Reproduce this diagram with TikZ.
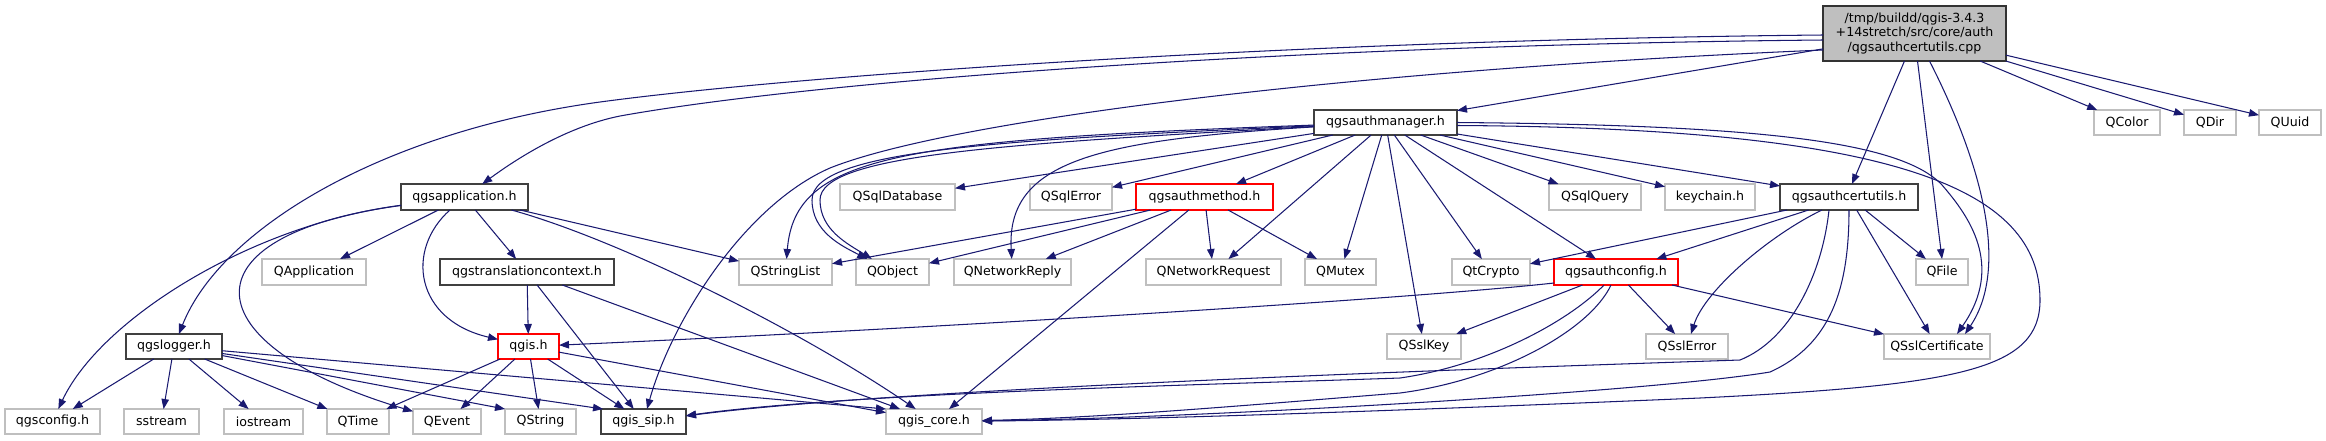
\documentclass[tikz,border=0pt]{standalone}
\usepackage{fontspec}
\setmainfont{DejaVu Sans}
\usetikzlibrary{arrows.meta}
\definecolor{edgecol}{HTML}{191970}
\definecolor{grayb}{HTML}{BFBFBF}
\newcommand{\bx}[7]{\node[#1, minimum width=#5pt, minimum height=#6pt] (#2) at (#3,#4) {#7};}
\begin{document}
\begin{tikzpicture}[x=1pt,y=-1pt,
  box/.style={draw, line width=1.2pt, fill=white, inner sep=0pt, outer sep=0pt,
    font=\fontsize{12.6}{14.5}\selectfont, align=center},
  gbox/.style={box, draw=grayb},
  bbox/.style={box, draw=black!75},
  rbox/.style={box, draw=red},
  mainbox/.style={box, draw=black!80, fill=grayb},
  dep/.style={draw=edgecol, line width=1.05pt, -{Triangle[length=10pt,width=7.5pt]}}]
\useasboundingbox (0,0) rectangle (2326,440);

% row 0
\bx{mainbox}{main}{1914.5}{33.5}{183}{55}{/tmp/buildd/qgis-3.4.3\\+14stretch/src/core/auth\\/qgsauthcertutils.cpp}
% row 1
\bx{bbox}{authmgr}{1385.5}{122.5}{143}{25}{qgsauthmanager.h}
\bx{gbox}{qcolor}{2127}{122.5}{66}{25}{QColor}
\bx{gbox}{qdir}{2210}{122.5}{52}{25}{QDir}
\bx{gbox}{quuid}{2290}{122.5}{62}{25}{QUuid}
% row 2
\bx{bbox}{qgsapp}{464.5}{197}{127}{26}{qgsapplication.h}
\bx{gbox}{sqldb}{897.5}{197}{115}{26}{QSqlDatabase}
\bx{gbox}{sqlerr}{1071}{197}{82}{26}{QSqlError}
\bx{rbox}{authmethod}{1204.5}{197}{137}{26}{qgsauthmethod.h}
\bx{gbox}{sqlquery}{1595}{197}{92}{26}{QSqlQuery}
\bx{gbox}{keychain}{1710}{197}{90}{26}{keychain.h}
\bx{bbox}{certutils}{1849}{197}{138}{26}{qgsauthcertutils.h}
% row 3
\bx{gbox}{qapp}{314}{272}{104}{26}{QApplication}
\bx{bbox}{transctx}{527}{272}{174}{26}{qgstranslationcontext.h}
\bx{gbox}{qstrlist}{785.5}{272}{93}{26}{QStringList}
\bx{gbox}{qobject}{892.5}{272}{73}{26}{QObject}
\bx{gbox}{netreply}{1012.5}{272}{117}{26}{QNetworkReply}
\bx{gbox}{netreq}{1213.5}{272}{135}{26}{QNetworkRequest}
\bx{gbox}{qmutex}{1340.5}{272}{71}{26}{QMutex}
\bx{gbox}{qtcrypto}{1491}{272}{78}{26}{QtCrypto}
\bx{rbox}{authconfig}{1616}{272}{124}{26}{qgsauthconfig.h}
\bx{gbox}{qfile}{1942}{272}{52}{26}{QFile}
% row 4
\bx{bbox}{logger}{174}{346.5}{96}{25}{qgslogger.h}
\bx{rbox}{qgis}{528.5}{346.5}{61}{25}{qgis.h}
\bx{gbox}{sslkey}{1424}{346.5}{74}{25}{QSslKey}
\bx{gbox}{sslerror}{1687}{346.5}{82}{25}{QSslError}
\bx{gbox}{sslcert}{1937}{346.5}{106}{25}{QSslCertificate}
% row 5
\bx{gbox}{qgsconfig}{52.5}{421.5}{95}{25}{qgsconfig.h}
\bx{gbox}{sstream}{161.5}{421.5}{75}{25}{sstream}
\bx{gbox}{iostream}{263.5}{421.5}{79}{25}{iostream}
\bx{gbox}{qtime}{358}{421.5}{62}{25}{QTime}
\bx{gbox}{qevent}{447}{421.5}{68}{25}{QEvent}
\bx{gbox}{qstring}{540.5}{421.5}{71}{25}{QString}
\bx{bbox}{qgissip}{643.5}{421.5}{85}{25}{qgis\_sip.h}
\bx{gbox}{qgiscore}{934}{421.5}{96}{25}{qgis\_core.h}

% bend points
\coordinate (kl) at (600,102);
\coordinate (kap) at (620,116);
\coordinate (kA) at (830,168);
\coordinate (ko1) at (812,200);
\coordinate (ko2) at (820,200);
\coordinate (ks1) at (1942,185);
\coordinate (kc1) at (2040,300);
\coordinate (kc2) at (1700,398);
\coordinate (kp1) at (1740,360);
\coordinate (kq1) at (1770,372);
\coordinate (ka1) at (1400,378);
\coordinate (kb1) at (1400,393);

% main file
\draw[dep] (main) -- (authmgr);
\draw[dep] (main) -- (qcolor);
\draw[dep] (main) -- (qdir);
\draw[dep] (main) -- (quuid);
\draw[dep] ([xshift=-10pt]main.south) -- ([xshift=3pt]certutils.north);
\draw[dep] ([xshift=3pt]main.south) -- (qfile.north);
\draw[dep] ([xshift=15pt]main.south) .. controls (1985,170) and (2008,270) .. ([xshift=28pt]sslcert.north);
\draw[dep] ([yshift=-1.5pt]main.west) .. controls (1300,40) and (800,75) .. (kl) .. controls (380,132) and (220,230) .. (logger);
\draw[dep] ([yshift=-6.5pt]main.west) .. controls (1300,45) and (820,80) .. (kap) .. controls (565,127) and (515,160) .. (qgsapp);
\draw[dep] ([yshift=-16.5pt]main.west) .. controls (1350,70) and (950,120) .. (kA) .. controls (745,205) and (672,320) .. (qgissip);

% qgsauthmanager.h
\draw[dep] (authmgr) -- (certutils);
\draw[dep] (authmgr) -- (keychain);
\draw[dep] (authmgr) -- (sqlquery);
\draw[dep] (authmgr) -- (qtcrypto);
\draw[dep] (authmgr) -- (authconfig);
\draw[dep] (authmgr) -- (qmutex);
\draw[dep] (authmgr) -- (sslkey);
\draw[dep] (authmgr) -- (netreq);
\draw[dep] (authmgr) -- (authmethod);
\draw[dep] (authmgr) -- (sqlerr);
\draw[dep] (authmgr) -- (sqldb);
\draw[dep] (authmgr) .. controls (1100,140) and (1006,160) .. (netreply);
\draw[dep] (authmgr) .. controls (900,140) and (795,155) .. (qstrlist);
\draw[dep] (authmgr) .. controls (1000,140) and (812,150) .. (ko1) .. controls (812,232) and (842,246) .. (qobject);
\draw[dep] (authmgr) .. controls (1000,144) and (820,155) .. (ko2) .. controls (820,230) and (848,244) .. (qobject);
\draw[dep] (authmgr.east) .. controls (1750,125) and (1900,140) .. (ks1) .. controls (1968,215) and (2005,265) .. ([xshift=20pt]sslcert.north);
\draw[dep] ([yshift=-3pt]authmgr.east) .. controls (1900,128) and (2040,190) .. (kc1) .. controls (2040,370) and (1960,385) .. (kc2) .. controls (1300,415) and (1100,420) .. (qgiscore);

% qgsauthmethod.h
\draw[dep] (authmethod) -- (qstrlist);
\draw[dep] (authmethod) -- (qobject);
\draw[dep] (authmethod) -- (netreply);
\draw[dep] (authmethod) -- (netreq);
\draw[dep] (authmethod) -- (qmutex);
\draw[dep] (authmethod) -- (qgiscore);

% qgsauthcertutils.h
\draw[dep] (certutils) -- (qtcrypto);
\draw[dep] (certutils) -- (authconfig);
\draw[dep] (certutils) -- (qfile);
\draw[dep] (certutils) -- (sslcert);
\draw[dep] (certutils) .. controls (1770,235) and (1705,290) .. (sslerror);
\draw[dep] ([xshift=-20pt]certutils.south) .. controls (1822,275) and (1790,340) .. (kp1) .. controls (1500,368) and (900,388) .. (qgissip);
\draw[dep] (certutils) .. controls (1849,290) and (1830,345) .. (kq1) .. controls (1650,392) and (1200,418) .. (qgiscore);

% qgsauthconfig.h
\draw[dep] ([yshift=2pt]authconfig.south west) .. controls (1400,300) and (900,330) .. (qgis);
\draw[dep] (authconfig) -- (sslkey);
\draw[dep] (authconfig) -- (sslerror);
\draw[dep] (authconfig) -- (sslcert);
\draw[dep] ([xshift=-12pt]authconfig.south) .. controls (1570,320) and (1490,365) .. (ka1) .. controls (1200,385) and (850,393) .. (qgissip);
\draw[dep] ([xshift=-5pt]authconfig.south) .. controls (1590,330) and (1500,380) .. (kb1) .. controls (1250,405) and (1100,418) .. (qgiscore);

% qgsapplication.h
\draw[dep] (qgsapp) -- (qapp);
\draw[dep] (qgsapp) -- (transctx);
\draw[dep] (qgsapp) -- (qstrlist);
\draw[dep] (qgsapp) .. controls (620,240) and (800,330) .. (qgiscore);
\draw[dep] (qgsapp) .. controls (405,250) and (415,320) .. (qgis);
\draw[dep] (qgsapp) .. controls (250,225) and (100,320) .. (qgsconfig);
\draw[dep] (qgsapp) .. controls (180,235) and (190,345) .. (qevent);

% qgstranslationcontext.h
\draw[dep] (transctx) -- (qgis);
\draw[dep] (transctx) -- (qgissip);
\draw[dep] (transctx) -- (qgiscore);

% qgslogger.h
\draw[dep] (logger) -- (qgsconfig);
\draw[dep] (logger) -- (sstream);
\draw[dep] (logger) -- (iostream);
\draw[dep] (logger) -- (qtime);
\draw[dep] (logger) -- (qstring.north west);
\draw[dep] (logger) -- ([xshift=2pt]qgissip.north west);
\draw[dep] (logger) -- (qgiscore.north west);

% qgis.h
\draw[dep] (qgis) -- (qtime);
\draw[dep] (qgis) -- (qevent);
\draw[dep] (qgis) -- (qstring);
\draw[dep] (qgis) -- (qgissip);
\draw[dep] (qgis) -- (qgiscore);
\end{tikzpicture}
\end{document}
